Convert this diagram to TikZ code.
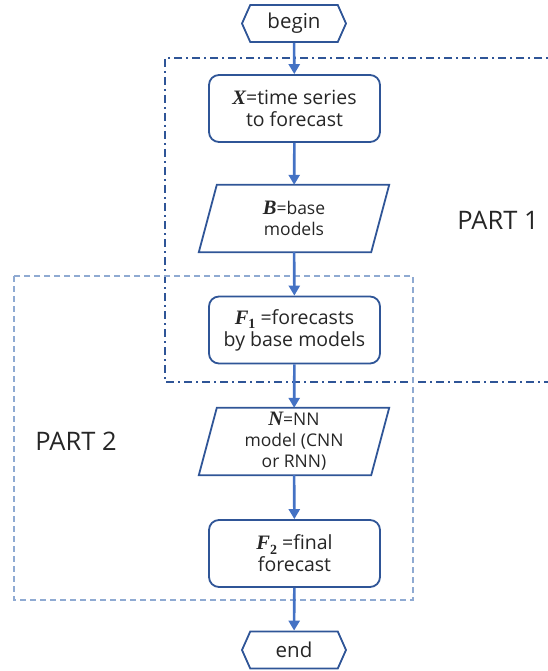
\documentclass[tikz,border=0pt]{standalone}
\usepackage{fontspec}
\setmainfont{Open Sans}
\newfontfamily\mvfont{Liberation Serif}
\newcommand{\mvar}[1]{{\mvfont\bfseries\itshape\fontsize{20.5}{20}\selectfont #1}}
\newcommand{\mvsub}[2]{{\mvfont\bfseries\itshape\fontsize{20.5}{20}\selectfont #1}\raisebox{-0.22em}{\mvfont\bfseries\fontsize{14}{14}\selectfont #2}}
\usetikzlibrary{arrows.meta,shapes.symbols}
\definecolor{boxblue}{RGB}{47,85,151}
\definecolor{arrblue}{RGB}{68,114,196}
\definecolor{lightdash}{RGB}{143,170,210}
\definecolor{txt}{RGB}{38,38,38}
\tikzset{
  procbox/.style={draw=boxblue, line width=1.8pt, rounded corners=10pt, fill=white,
    minimum width=171pt, minimum height=67pt, inner sep=0pt, align=center,
    text=txt, font=\fontsize{19.5}{22}\selectfont},
  iobox/.style={minimum width=172pt, minimum height=67pt, inner sep=0pt, align=center,
    text=txt, font=\fontsize{17.5}{21}\selectfont},
  termbox/.style={draw=boxblue, line width=1.8pt, signal, signal to=west and east,
    signal pointer angle=132, minimum width=104pt, minimum height=37pt, inner sep=0pt,
    text=txt, font=\fontsize{20.5}{22}\selectfont},
  flowarrow/.style={draw=arrblue, line width=2.6pt, -{Triangle[length=10pt,width=11pt]}},
  partone/.style={draw=boxblue, line width=1.8pt, dash pattern=on 8pt off 4pt on 2pt off 4pt},
  parttwo/.style={draw=lightdash, line width=1.6pt, dash pattern=on 6pt off 4pt},
  partlabel/.style={text=txt, font=\fontsize{25.5}{28}\selectfont}
}
\begin{document}
\begin{tikzpicture}[x=1pt,y=-1pt]
\useasboundingbox (0,0) rectangle (548,671);
\begin{scope}
\clip (0,0) rectangle (548,671);
\draw[partone] (560,58) -- (165,58) -- (165,382) -- (560,382);
\end{scope}
\draw[parttwo] (14,276) rectangle (413,600);

\node[termbox] (begin) at (294,23.5) {begin};
\node[procbox] (X) at (294.5,108.5) {\mvar{X}=time series\\to forecast};
\node[iobox] (B) at (294,218.5) {\mvar{B}=base\\models};
\node[procbox] (F1) at (294.5,330) {\mvsub{F}{1} =forecasts\\by base models};
\node[iobox] (N) at (294,441.5) {\mvar{N}=NN\\model (CNN\\or RNN)};
\node[procbox] (F2) at (294.5,553.5) {\mvsub{F}{2} =final\\forecast};
\node[termbox] (end) at (294,650) {end};

\draw[draw=boxblue, line width=1.8pt]
  ([xshift=9pt]B.north west) -- ([xshift=9pt]B.north east) -- ([xshift=-9pt]B.south east) -- ([xshift=-9pt]B.south west) -- cycle;
\draw[draw=boxblue, line width=1.8pt]
  ([xshift=9pt]N.north west) -- ([xshift=9pt]N.north east) -- ([xshift=-9pt]N.south east) -- ([xshift=-9pt]N.south west) -- cycle;

\node[partlabel] (p1) at (498,220) {PART 1};
\node[partlabel] (p2) at (76,441) {PART 2};

\draw[flowarrow] (begin) -- (X);
\draw[flowarrow] (X) -- (B);
\draw[flowarrow] (B) -- (F1);
\draw[flowarrow] (F1) -- (N);
\draw[flowarrow] (N) -- (F2);
\draw[flowarrow] (F2) -- (end);
\end{tikzpicture}
\end{document}
